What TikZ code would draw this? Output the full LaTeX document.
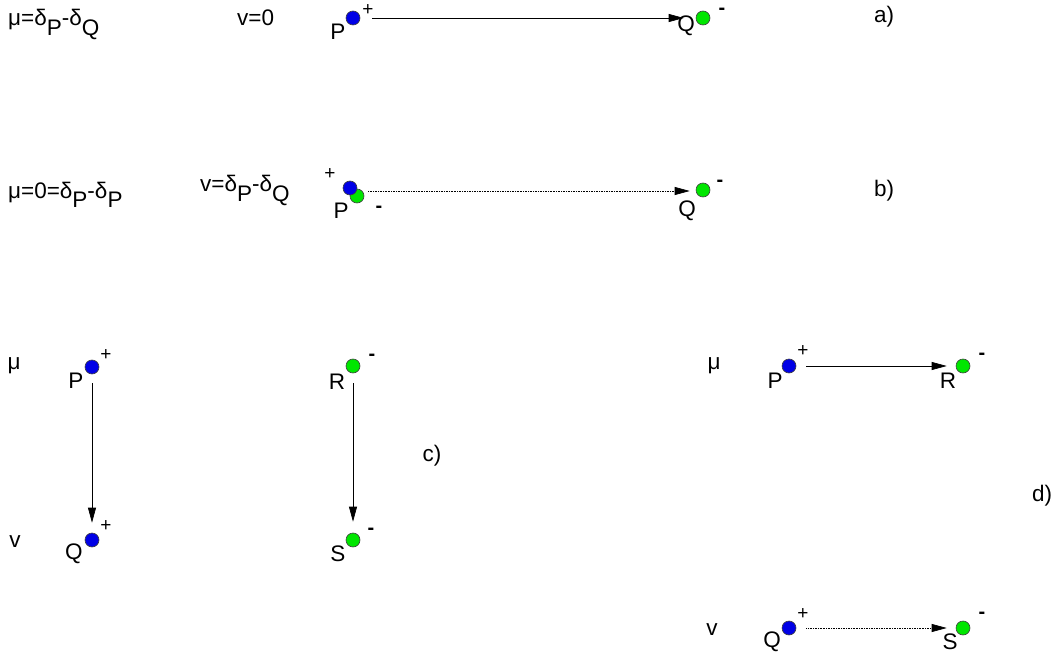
\documentclass[tikz,border=0pt]{standalone}
\usepackage{fontspec}
\setmainfont{Liberation Sans}
\usetikzlibrary{arrows.meta}
\newcommand\lowsub[1]{\raisebox{-0.42em}{#1}}
\begin{document}
\begin{tikzpicture}[x=1pt,y=-1pt,
  every node/.style={font=\fontsize{22.5}{24}\selectfont, inner sep=0pt},
  bdot/.style={circle, minimum size=14pt, fill={rgb,255:red,0;green,0;blue,230}, draw=black!75, line width=0.6pt},
  gdot/.style={circle, minimum size=14pt, fill={rgb,255:red,0;green,230;blue,0}, draw=black!75, line width=0.6pt},
  sgn/.style={font=\fontsize{19}{19}\selectfont},
  minus/.style={font=\fontsize{20}{20}\selectfont\bfseries, text height=8pt, text depth=0pt},
  conn/.style={-{Triangle[length=15pt,width=8pt]}, line width=0.65pt},
  dconn/.style={conn, densely dotted}]
\useasboundingbox (0,0) rectangle (1058,658);
% ---------- a) ----------
\node[anchor=base west] (ta1) at (8,26) {μ=δ\lowsub{P}-δ\lowsub{Q}};
\node[anchor=base west] (ta2) at (237,26) {v=0};
\node[bdot] (aP) at (353,18) {};
\node (aPl) at (338,32) {P};
\node[sgn] (aPs) at (368,10) {+};
\node[gdot] (aQ) at (703,18) {};
\node (aQl) at (686,26) {Q};
\node[minus] (aQs) at (722,11) {-};
\node (la) at (884,17) {a)};
\draw[conn, shorten <=12pt, shorten >=12pt] (aP) -- (aQ);
% ---------- b) ----------
\node[anchor=base west] (tb1) at (8,198) {μ=0=δ\lowsub{P}-δ\lowsub{P}};
\node[anchor=base west] (tb2) at (200,192) {v=δ\lowsub{P}-δ\lowsub{Q}};
\node[gdot] (bG) at (357,196) {};
\node[bdot] (bP) at (350,188) {};
\node[sgn] (bPs) at (330,174) {+};
\node (bPl) at (341,211) {P};
\node[minus] (bPm) at (379,208) {-};
\node[gdot] (bQ) at (703,190) {};
\node (bQl) at (687,211) {Q};
\node[minus] (bQs) at (720,182) {-};
\node (lb) at (884,191) {b)};
\coordinate (bstart) at (368,191);
\draw[dconn, shorten >=6pt] (bstart) -- (bstart -| bQ.west);
% ---------- c) ----------
\node (cmu) at (14,366) {μ};
\node (cnu) at (15,542) {v};
\node[bdot] (cP) at (92,367) {};
\node (cPl) at (76,381) {P};
\node[sgn] (cPs) at (106,355) {+};
\node[bdot] (cQ) at (92,540) {};
\node (cQl) at (74,554) {Q};
\node[sgn] (cQs) at (106,526) {+};
\draw[conn, shorten <=9pt, shorten >=10pt] (cP) -- (cQ);
\node[gdot] (cR) at (353,366) {};
\node (cRl) at (337,382) {R};
\node[minus] (cRs) at (372,356) {-};
\node[gdot] (cS) at (353,540) {};
\node (cSl) at (338,554) {S};
\node[minus] (cSs) at (371,530) {-};
\draw[conn, shorten <=10pt, shorten >=11pt] (cR) -- (cS);
\node (lc) at (432,456) {c)};
% ---------- d) ----------
\node (dmu) at (714,366) {μ};
\node (dnu) at (712,630) {v};
\node[bdot] (dP) at (789,366) {};
\node (dPl) at (775,381) {P};
\node[sgn] (dPs) at (803,351) {+};
\node[gdot] (dR) at (963,366) {};
\node (dRl) at (948,381) {R};
\node[minus] (dRs) at (982,355) {-};
\draw[conn, shorten <=10pt, shorten >=9pt] (dP) -- (dR);
\node[bdot] (dQ) at (789,628) {};
\node (dQl) at (772,642) {Q};
\node[sgn] (dQs) at (803,614) {+};
\node[gdot] (dS) at (963,628) {};
\node (dSl) at (950,642) {S};
\node[minus] (dSs) at (982,614) {-};
\draw[dconn, shorten <=10pt, shorten >=9pt] (dQ) -- (dS);
\node (ld) at (1042,496) {d)};
\end{tikzpicture}
\end{document}
